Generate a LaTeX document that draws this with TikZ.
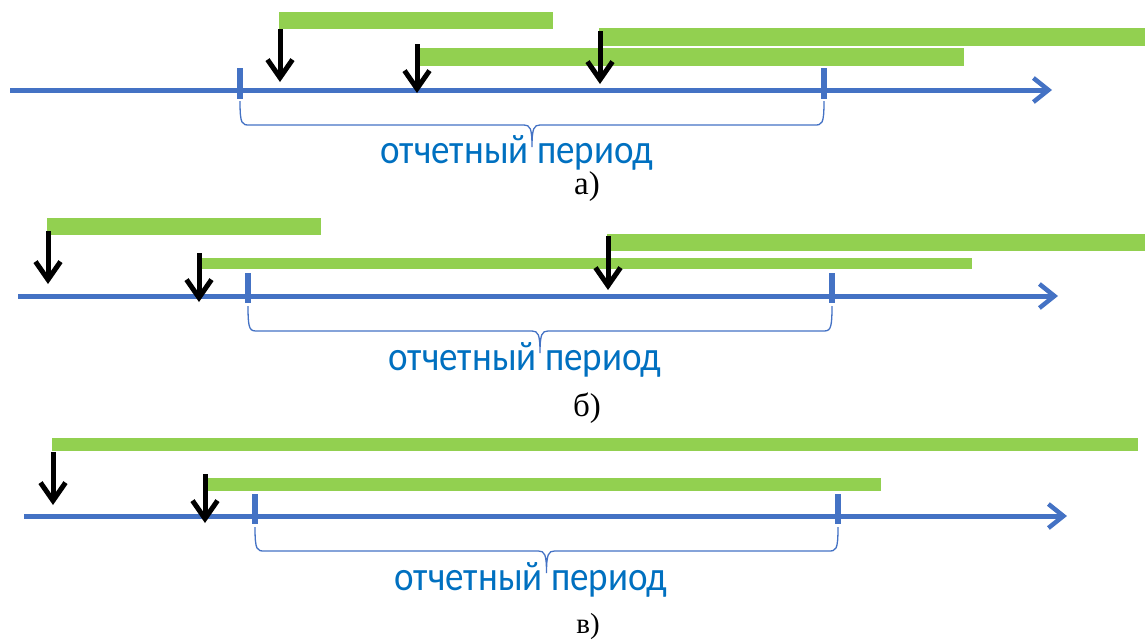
\documentclass[tikz,border=0pt]{standalone}
\usepackage{fontspec}
\usepackage{graphicx}
\setmainfont{Liberation Serif}
\newfontfamily\labelfont{Carlito}
\usetikzlibrary{arrows.meta}
\definecolor{axisblue}{HTML}{4472C4}
\definecolor{textblue}{HTML}{0070C0}
\definecolor{bargreen}{HTML}{92D050}
\tikzset{
  axisline/.style={draw=axisblue, line width=5pt,
    -{Straight Barb[length=15pt,width=24pt,line width=4.5pt]}},
  tickmark/.style={draw=axisblue, line width=5.5pt},
  bar/.style={fill=bargreen, draw=none},
  event/.style={draw=black, line width=5pt,
    -{Straight Barb[length=18pt,width=25pt,line width=5pt]}},
  bracepath/.style={draw=axisblue, line width=1.3pt},
  periodlabel/.style={font=\labelfont\fontsize{37}{40}\selectfont, text=textblue,
    anchor=base, inner sep=0pt},
  caselabel/.style={font=\fontsize{33}{35}\selectfont, anchor=base, inner sep=0pt},
}
\newcommand{\periodtext}{\scalebox{1}[1.12]{отчетный период}}
% curly brace under the axis between two ticks
\newcommand{\periodbrace}[4]{% #1 left x, #2 right x, #3 top y, #4 axis y
  \pgfmathsetmacro{\cx}{(#1+#2)/2}
  \draw[bracepath] (#1,#3) .. controls (#1,#4+35) and (#1+2,#4+35) .. (#1+10,#4+35)
    -- (\cx-8,#4+35) .. controls (\cx-2,#4+35) and (\cx,#4+38) .. (\cx,#4+57)
    .. controls (\cx,#4+38) and (\cx+2,#4+35) .. (\cx+8,#4+35)
    -- (#2-10,#4+35) .. controls (#2-2,#4+35) and (#2,#4+35) .. (#2,#3);
}
\begin{document}
\begin{tikzpicture}[x=1pt,y=-1pt]
\useasboundingbox (0,0) rectangle (1145,641);

% ---------- case a ----------
\fill[bar] (279,12) rectangle (553,29);
\fill[bar] (599,28) rectangle (1145,46);
\fill[bar] (418,48) rectangle (964,66);
\coordinate (a0) at (10,90);
\coordinate (a1) at (1052,90);
\draw[axisline] (a0) -- (a1);
\draw[tickmark] (240,68) -- (240,99);
\draw[tickmark] (824,68) -- (824,99);
\coordinate (ae1) at (280,29);  \coordinate (at1) at (280,82);
\coordinate (ae2) at (417,44);  \coordinate (at2) at (417,93);
\coordinate (ae3) at (600,31);  \coordinate (at3) at (600,84);
\draw[event] (ae1) -- (at1);
\draw[event] (ae2) -- (at2);
\draw[event] (ae3) -- (at3);
\periodbrace{240}{824}{101}{90}
\node[periodlabel] (pa) at (517,163) {\periodtext};
\node[caselabel] (ca) at (587,194) {а)};

% ---------- case b ----------
\fill[bar] (47,218) rectangle (321,235);
\fill[bar] (607,234) rectangle (1145,251);
\fill[bar] (201,258) rectangle (972,269);
\coordinate (b0) at (18,296);
\coordinate (b1) at (1058,296);
\draw[axisline] (b0) -- (b1);
\draw[tickmark] (248,273) -- (248,303);
\draw[tickmark] (832,273) -- (832,303);
\coordinate (be1) at (48,231);  \coordinate (bt1) at (48,284);
\coordinate (be2) at (199,253); \coordinate (bt2) at (199,302);
\coordinate (be3) at (608,236); \coordinate (bt3) at (608,290);
\draw[event] (be1) -- (bt1);
\draw[event] (be2) -- (bt2);
\draw[event] (be3) -- (bt3);
\periodbrace{248}{832}{306}{296}
\node[periodlabel] (pb) at (525,370) {\periodtext};
\node[caselabel] (cb) at (587,416) {б)};

% ---------- case c ----------
\fill[bar] (52,438) rectangle (1138,451);
\fill[bar] (207,478) rectangle (881,491);
\coordinate (c0) at (24,516);
\coordinate (c1) at (1067,516);
\draw[axisline] (c0) -- (c1);
\draw[tickmark] (255,494) -- (255,524);
\draw[tickmark] (838,494) -- (838,524);
\coordinate (ce1) at (53,452);  \coordinate (ct1) at (53,505);
\coordinate (ce2) at (205,474); \coordinate (ct2) at (205,523);
\draw[event] (ce1) -- (ct1);
\draw[event] (ce2) -- (ct2);
\periodbrace{255}{838}{527}{516}
\node[periodlabel] (pc) at (531,590) {\periodtext};
\node[caselabel, font=\fontsize{29}{31}\selectfont] (cc) at (588,633) {в)};
\end{tikzpicture}
\end{document}
